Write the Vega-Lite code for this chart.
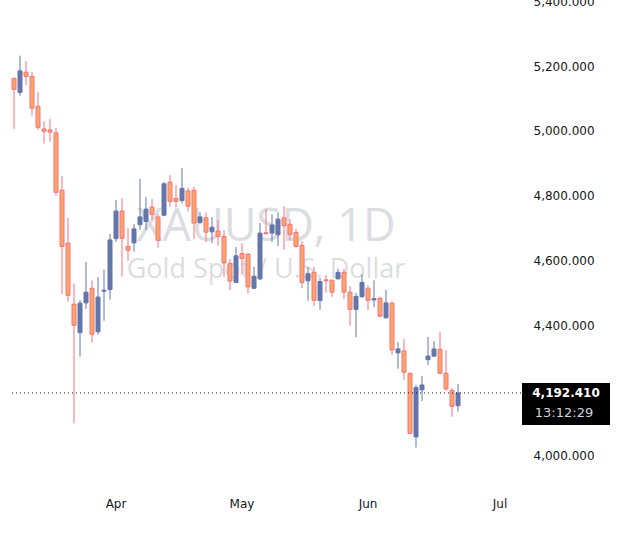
{
  "$schema": "https://vega.github.io/schema/vega-lite/v6.json",
  "width": 510,
  "height": 494,
  "autosize": {"type": "none"},
  "padding": {"left": 11, "top": 0, "right": 102, "bottom": 47},
  "background": "#ffffff",
  "config": {"view": {"stroke": null}, "font": "DejaVu Sans"},
  "datasets": {
    "candles": [
      {"date": "2026-03-09", "open": 5162, "high": 5164, "low": 5006, "close": 5128},
      {"date": "2026-03-10", "open": 5118, "high": 5232, "low": 5108, "close": 5185},
      {"date": "2026-03-11", "open": 5181, "high": 5215, "low": 5141, "close": 5168},
      {"date": "2026-03-12", "open": 5168, "high": 5182, "low": 5047, "close": 5070},
      {"date": "2026-03-13", "open": 5076, "high": 5120, "low": 5003, "close": 5011},
      {"date": "2026-03-16", "open": 5006, "high": 5030, "low": 4961, "close": 4999},
      {"date": "2026-03-17", "open": 5003, "high": 5037, "low": 4967, "close": 4996},
      {"date": "2026-03-18", "open": 4994, "high": 5009, "low": 4800, "close": 4811},
      {"date": "2026-03-19", "open": 4817, "high": 4861, "low": 4497, "close": 4644},
      {"date": "2026-03-20", "open": 4654, "high": 4732, "low": 4474, "close": 4493},
      {"date": "2026-03-23", "open": 4466, "high": 4530, "low": 4099, "close": 4401},
      {"date": "2026-03-24", "open": 4378, "high": 4479, "low": 4304, "close": 4469},
      {"date": "2026-03-25", "open": 4470, "high": 4596, "low": 4452, "close": 4503},
      {"date": "2026-03-26", "open": 4515, "high": 4540, "low": 4347, "close": 4373},
      {"date": "2026-03-27", "open": 4381, "high": 4550, "low": 4372, "close": 4488},
      {"date": "2026-03-30", "open": 4506, "high": 4573, "low": 4415, "close": 4509},
      {"date": "2026-03-31", "open": 4511, "high": 4682, "low": 4480, "close": 4664},
      {"date": "2026-04-01", "open": 4668, "high": 4787, "low": 4658, "close": 4753},
      {"date": "2026-04-02", "open": 4753, "high": 4792, "low": 4551, "close": 4669},
      {"date": "2026-04-06", "open": 4644, "high": 4700, "low": 4599, "close": 4632},
      {"date": "2026-04-07", "open": 4655, "high": 4713, "low": 4628, "close": 4698},
      {"date": "2026-04-08", "open": 4711, "high": 4852, "low": 4695, "close": 4735},
      {"date": "2026-04-09", "open": 4721, "high": 4796, "low": 4695, "close": 4759},
      {"date": "2026-04-10", "open": 4765, "high": 4790, "low": 4726, "close": 4743},
      {"date": "2026-04-13", "open": 4735, "high": 4743, "low": 4640, "close": 4663},
      {"date": "2026-04-14", "open": 4740, "high": 4842, "low": 4738, "close": 4837},
      {"date": "2026-04-15", "open": 4842, "high": 4864, "low": 4766, "close": 4783},
      {"date": "2026-04-16", "open": 4792, "high": 4833, "low": 4764, "close": 4783},
      {"date": "2026-04-17", "open": 4785, "high": 4885, "low": 4777, "close": 4823},
      {"date": "2026-04-20", "open": 4815, "high": 4825, "low": 4752, "close": 4768},
      {"date": "2026-04-21", "open": 4817, "high": 4828, "low": 4666, "close": 4716},
      {"date": "2026-04-22", "open": 4718, "high": 4749, "low": 4712, "close": 4735},
      {"date": "2026-04-23", "open": 4732, "high": 4749, "low": 4658, "close": 4688},
      {"date": "2026-04-24", "open": 4689, "high": 4735, "low": 4654, "close": 4703},
      {"date": "2026-04-27", "open": 4691, "high": 4724, "low": 4646, "close": 4675},
      {"date": "2026-04-28", "open": 4675, "high": 4694, "low": 4551, "close": 4593},
      {"date": "2026-04-29", "open": 4591, "high": 4605, "low": 4509, "close": 4537},
      {"date": "2026-04-30", "open": 4533, "high": 4642, "low": 4531, "close": 4615},
      {"date": "2026-05-01", "open": 4622, "high": 4654, "low": 4558, "close": 4607},
      {"date": "2026-05-04", "open": 4620, "high": 4624, "low": 4499, "close": 4519},
      {"date": "2026-05-05", "open": 4515, "high": 4581, "low": 4513, "close": 4552},
      {"date": "2026-05-06", "open": 4544, "high": 4716, "low": 4541, "close": 4685},
      {"date": "2026-05-07", "open": 4686, "high": 4759, "low": 4680, "close": 4683},
      {"date": "2026-05-08", "open": 4685, "high": 4743, "low": 4658, "close": 4710},
      {"date": "2026-05-11", "open": 4680, "high": 4749, "low": 4645, "close": 4728},
      {"date": "2026-05-12", "open": 4732, "high": 4769, "low": 4634, "close": 4708},
      {"date": "2026-05-13", "open": 4712, "high": 4728, "low": 4663, "close": 4681},
      {"date": "2026-05-14", "open": 4687, "high": 4698, "low": 4640, "close": 4644},
      {"date": "2026-05-15", "open": 4647, "high": 4661, "low": 4515, "close": 4533},
      {"date": "2026-05-18", "open": 4538, "high": 4580, "low": 4477, "close": 4560},
      {"date": "2026-05-19", "open": 4564, "high": 4582, "low": 4461, "close": 4478},
      {"date": "2026-05-20", "open": 4477, "high": 4546, "low": 4449, "close": 4536},
      {"date": "2026-05-21", "open": 4541, "high": 4556, "low": 4501, "close": 4538},
      {"date": "2026-05-22", "open": 4540, "high": 4541, "low": 4488, "close": 4503},
      {"date": "2026-05-25", "open": 4544, "high": 4575, "low": 4543, "close": 4564},
      {"date": "2026-05-26", "open": 4564, "high": 4575, "low": 4482, "close": 4503},
      {"date": "2026-05-27", "open": 4503, "high": 4521, "low": 4400, "close": 4450},
      {"date": "2026-05-28", "open": 4450, "high": 4501, "low": 4364, "close": 4490},
      {"date": "2026-05-29", "open": 4489, "high": 4558, "low": 4486, "close": 4533},
      {"date": "2026-06-01", "open": 4515, "high": 4523, "low": 4447, "close": 4478},
      {"date": "2026-06-02", "open": 4479, "high": 4540, "low": 4457, "close": 4483},
      {"date": "2026-06-03", "open": 4484, "high": 4489, "low": 4427, "close": 4429},
      {"date": "2026-06-04", "open": 4424, "high": 4510, "low": 4422, "close": 4470},
      {"date": "2026-06-05", "open": 4469, "high": 4475, "low": 4310, "close": 4325},
      {"date": "2026-06-08", "open": 4316, "high": 4349, "low": 4267, "close": 4328},
      {"date": "2026-06-09", "open": 4322, "high": 4359, "low": 4233, "close": 4256},
      {"date": "2026-06-10", "open": 4253, "high": 4255, "low": 4066, "close": 4068},
      {"date": "2026-06-11", "open": 4057, "high": 4218, "low": 4024, "close": 4209},
      {"date": "2026-06-12", "open": 4202, "high": 4245, "low": 4168, "close": 4217},
      {"date": "2026-06-15", "open": 4295, "high": 4365, "low": 4279, "close": 4306},
      {"date": "2026-06-16", "open": 4306, "high": 4352, "low": 4303, "close": 4328},
      {"date": "2026-06-17", "open": 4327, "high": 4380, "low": 4251, "close": 4253},
      {"date": "2026-06-18", "open": 4253, "high": 4325, "low": 4199, "close": 4205},
      {"date": "2026-06-19", "open": 4200, "high": 4208, "low": 4119, "close": 4151},
      {"date": "2026-06-22", "open": 4153, "high": 4220, "low": 4135, "close": 4192.41}
    ],
    "last": [
      {"price": 4192.41, "priceLabel": "4,192.410", "countdown": "13:12:29", "symbol": "XAUUSD, 1D", "description": "Gold Spot / U.S. Dollar"}
    ]
  },
  "data": {"name": "candles"},
  "layer": [
    {
      "data": {"name": "last"},
      "mark": {"type": "text", "font": "Open Sans", "fontSize": 45, "color": "#dcdde1", "align": "center", "baseline": "alphabetic"},
      "encoding": {
        "x": {"datum": "2026-05-07", "type": "ordinal"},
        "y": {"datum": 4661.6, "type": "quantitative"},
        "text": {"field": "symbol"}
      }
    },
    {
      "data": {"name": "last"},
      "mark": {"type": "text", "font": "Open Sans", "fontSize": 27, "color": "#dcdde1", "align": "center", "baseline": "alphabetic"},
      "encoding": {
        "x": {"datum": "2026-05-07", "type": "ordinal"},
        "y": {"datum": 4546.6, "type": "quantitative"},
        "text": {"field": "description"}
      }
    },
    {
      "mark": {"type": "rule", "strokeWidth": 1},
      "encoding": {
        "x": {
          "field": "date",
          "type": "ordinal",
          "sort": null,
          "scale": {
            "paddingInner": 0,
            "paddingOuter": 0,
            "domain": ["2026-03-09","2026-03-10","2026-03-11","2026-03-12","2026-03-13","2026-03-16","2026-03-17","2026-03-18","2026-03-19","2026-03-20","2026-03-23","2026-03-24","2026-03-25","2026-03-26","2026-03-27","2026-03-30","2026-03-31","2026-04-01","2026-04-02","2026-04-06","2026-04-07","2026-04-08","2026-04-09","2026-04-10","2026-04-13","2026-04-14","2026-04-15","2026-04-16","2026-04-17","2026-04-20","2026-04-21","2026-04-22","2026-04-23","2026-04-24","2026-04-27","2026-04-28","2026-04-29","2026-04-30","2026-05-01","2026-05-04","2026-05-05","2026-05-06","2026-05-07","2026-05-08","2026-05-11","2026-05-12","2026-05-13","2026-05-14","2026-05-15","2026-05-18","2026-05-19","2026-05-20","2026-05-21","2026-05-22","2026-05-25","2026-05-26","2026-05-27","2026-05-28","2026-05-29","2026-06-01","2026-06-02","2026-06-03","2026-06-04","2026-06-05","2026-06-08","2026-06-09","2026-06-10","2026-06-11","2026-06-12","2026-06-15","2026-06-16","2026-06-17","2026-06-18","2026-06-19","2026-06-22","2026-06-23","2026-06-24","2026-06-25","2026-06-26","2026-06-29","2026-06-30","2026-07-01","2026-07-02","2026-07-03","2026-07-06"]
          },
          "axis": {
            "title": null,
            "values": ["2026-04-01", "2026-05-01", "2026-06-01", "2026-07-01"],
            "labelExpr": "utcFormat(toDate(datum.value), '%b')",
            "labelAngle": 0,
            "labelAlign": "center",
            "ticks": false,
            "domain": false,
            "grid": false,
            "labelPadding": 9,
            "labelFontSize": 12,
            "labelColor": "#131722",
            "labelFont": "DejaVu Sans"
          }
        },
        "y": {
          "field": "low",
          "type": "quantitative",
          "scale": {"domain": [3881, 5403.4], "nice": false, "zero": false},
          "axis": {
            "orient": "right",
            "title": null,
            "values": [4000, 4200, 4400, 4600, 4800, 5000, 5200, 5400],
            "format": ",.3f",
            "ticks": false,
            "domain": false,
            "grid": false,
            "labelPadding": 12,
            "labelFontSize": 12,
            "labelColor": "#131722",
            "labelFont": "DejaVu Sans",
            "labelFlush": false,
            "labelBound": false,
            "labelOverlap": false
          }
        },
        "y2": {"field": "high"},
        "color": {
          "condition": {"test": "datum.close >= datum.open", "value": "#6377ab"},
          "value": "#f7707f"
        }
      }
    },
    {
      "mark": {"type": "bar", "size": 4, "strokeWidth": 1},
      "encoding": {
        "x": {"field": "date", "type": "ordinal", "sort": null},
        "y": {"field": "open", "type": "quantitative"},
        "y2": {"field": "close"},
        "fill": {
          "condition": {"test": "datum.close >= datum.open", "value": "#6377ab"},
          "value": "#ffa766"
        },
        "stroke": {
          "condition": {"test": "datum.close >= datum.open", "value": "#6377ab"},
          "value": "#f7707f"
        }
      }
    },
    {
      "data": {"name": "last"},
      "mark": {"type": "rule", "strokeDash": [1, 3], "strokeWidth": 1, "color": "#131722"},
      "encoding": {
        "y": {"field": "price", "type": "quantitative"}
      }
    },
    {
      "data": {"name": "last"},
      "mark": {"type": "rect", "color": "#000000", "clip": false, "xOffset": 1, "x2Offset": 89, "yOffset": -10, "y2Offset": 32},
      "encoding": {
        "x": {"value": "width"},
        "x2": {"value": "width"},
        "y": {"field": "price", "type": "quantitative"},
        "y2": {"field": "price"}
      }
    },
    {
      "data": {"name": "last"},
      "mark": {"type": "text", "font": "DejaVu Sans", "fontSize": 12, "fontWeight": "bold", "color": "#ffffff", "align": "center", "baseline": "middle", "dx": 45},
      "encoding": {
        "x": {"value": "width"},
        "y": {"field": "price", "type": "quantitative"},
        "text": {"field": "priceLabel"}
      }
    },
    {
      "data": {"name": "last"},
      "mark": {"type": "text", "font": "DejaVu Sans", "fontSize": 13, "color": "#d1d4dc", "align": "center", "baseline": "middle", "dx": 43, "dy": 20},
      "encoding": {
        "x": {"value": "width"},
        "y": {"field": "price", "type": "quantitative"},
        "text": {"field": "countdown"}
      }
    }
  ]
}
